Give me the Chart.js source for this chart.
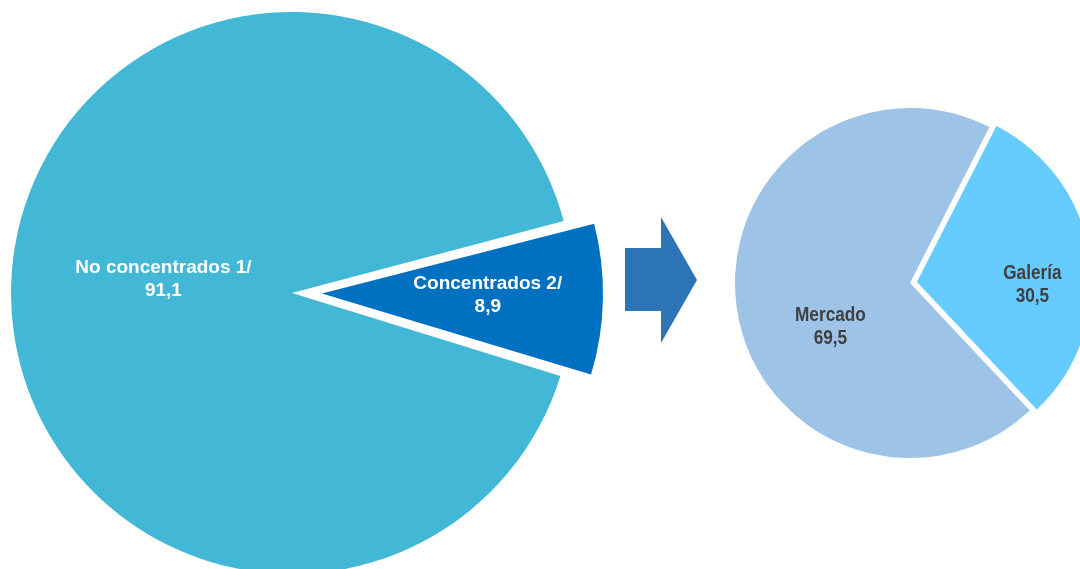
<!DOCTYPE html>
<html>
<head>
<meta charset="utf-8">
<script src="https://cdn.jsdelivr.net/npm/chart.js@4"></script>
<style>
  html, body { margin: 0; padding: 0; background: #fff; overflow: hidden; }
  #wrap { position: relative; width: 1080px; height: 569px; overflow: hidden; }
  #izq { position: absolute; left: -49px; top: -48px; }
  #der { position: absolute; left: 721px; top: 94px; }
  #flecha { position: absolute; left: 0; top: 0; }
</style>
</head>
<body>
<div id="wrap">
  <canvas id="izq" width="682" height="682"></canvas>
  <canvas id="der" width="378" height="378"></canvas>
  <svg id="flecha" width="1080" height="569">
    <polygon points="625,248 661,248 661,217 697,280 661,343 661,311 625,311" fill="#2E75B6"/>
  </svg>
</div>
<script>
// Datos
var totalLabels = ["No concentrados 1/", "Concentrados 2/"];
var totalValues = [91.1, 8.9];
var totalColors = ["#42B7D6", "#0070C0"];

var tipoLabels = ["Mercado", "Galería"];
var tipoValues = [69.5, 30.5];
var tipoColors = ["#9DC3E6", "#66CCFF"];

function fmt(v) { return v.toFixed(1).replace('.', ','); }

// Plugin para las etiquetas dentro de cada porción
var etiquetas = {
  id: 'etiquetas',
  afterDatasetsUpdate: function (chart) {
    // Chart.js agranda el radio de la porción separada; lo devolvemos al radio normal
    chart.getDatasetMeta(0).data.forEach(function (arc) {
      var off = (arc.options.offset || 0) / 4;
      var fix = 1 - Math.sin(Math.min(Math.PI, arc.circumference));
      arc.outerRadius -= off * fix;
    });
  },
  afterDatasetsDraw: function (chart, args, opts) {
    var ctx = chart.ctx;
    var ds = chart.data.datasets[0];
    var meta = chart.getDatasetMeta(0);
    meta.data.forEach(function (arc, i) {
      var mid = (arc.startAngle + arc.endAngle) / 2;
      var off = (arc.options.offset || 0) / 4;
      var cx = arc.x + Math.cos(mid) * off;
      var cy = arc.y + Math.sin(mid) * off;
      var ang = (opts.angle[i] - 90) * Math.PI / 180;
      var r = opts.frac[i] * meta.controller.outerRadius;
      var x = cx + Math.cos(ang) * r;
      var y = cy + Math.sin(ang) * r;
      var lines = [chart.data.labels[i], fmt(ds.data[i])];
      ctx.save();
      ctx.translate(x, y);
      ctx.scale(opts.stretch || 1, 1); // letra estrecha
      ctx.font = opts.font;
      ctx.fillStyle = opts.color;
      ctx.textAlign = 'center';
      ctx.textBaseline = 'middle';
      ctx.fillText(lines[0], 0, -opts.lineHeight / 2);
      ctx.fillText(lines[1], 0, opts.lineHeight / 2);
      ctx.restore();
    });
  }
};

var izq = new Chart(document.getElementById('izq'), {
  type: 'pie',
  data: {
    labels: totalLabels,
    datasets: [{
      data: totalValues,
      backgroundColor: totalColors,
      borderWidth: 0,
      offset: [0, 120]
    }]
  },
  options: {
    responsive: false,
    animation: false,
    events: [],
    rotation: 107.2,
    layout: { padding: 0 },
    plugins: {
      legend: { display: false },
      tooltip: { enabled: false },
      etiquetas: {
        angle: [276, 90.5],
        frac: [0.46, 0.59],
        font: 'bold 19px "Liberation Sans", Arial, sans-serif',
        color: '#ffffff',
        lineHeight: 23,
        stretch: 1
      }
    }
  },
  plugins: [etiquetas]
});

var der = new Chart(document.getElementById('der'), {
  type: 'pie',
  data: {
    labels: tipoLabels,
    datasets: [{
      data: tipoValues,
      backgroundColor: tipoColors,
      borderWidth: 0,
      offset: [0, 28]
    }]
  },
  options: {
    responsive: false,
    animation: false,
    events: [],
    rotation: 136.8,
    layout: { padding: 0 },
    plugins: {
      legend: { display: false },
      tooltip: { enabled: false },
      etiquetas: {
        angle: [241, 91.5],
        frac: [0.52, 0.66],
        font: 'bold 21px "Liberation Sans", Arial, sans-serif',
        color: '#404040',
        lineHeight: 23,
        stretch: 0.82
      }
    }
  },
  plugins: [etiquetas]
});
</script>
</body>
</html>
